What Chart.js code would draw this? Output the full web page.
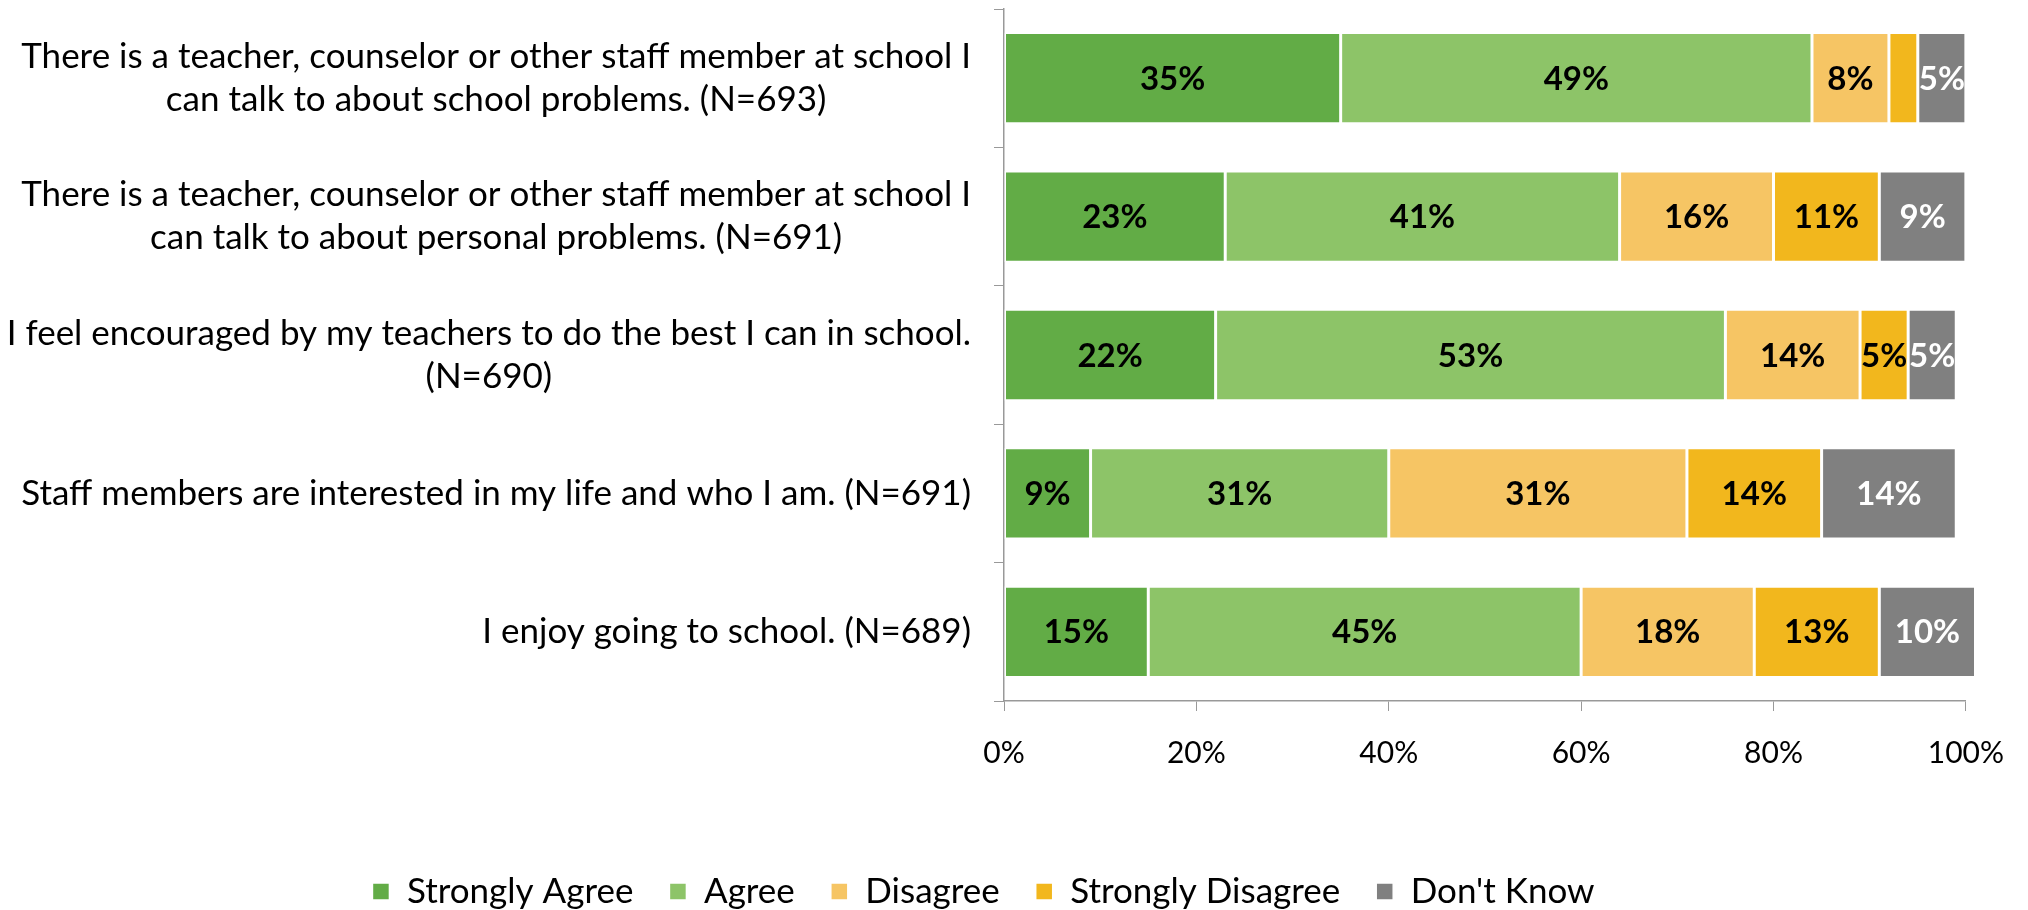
<!DOCTYPE html>
<html>
<head>
<meta charset="utf-8">
<script src="https://cdn.jsdelivr.net/npm/chart.js@4"></script>
<style>
  html, body { margin: 0; padding: 0; background: #fff; }
  #wrap { width: 2028px; height: 910px; }
</style>
</head>
<body>
<div id="wrap"><canvas id="surveyChart" width="2028" height="910"></canvas></div>
<script>
// survey statements (y axis), each split in display lines
const statements = [
  ['There is a teacher, counselor or other staff member at school I', 'can talk to about school problems. (N=693)'],
  ['There is a teacher, counselor or other staff member at school I', 'can talk to about personal problems. (N=691)'],
  ['I feel encouraged by my teachers to do the best I can in school.', '(N=690)'],
  ['Staff members are interested in my life and who I am. (N=691)'],
  ['I enjoy going to school. (N=689)']
]
const responses = ['Strongly Agree', 'Agree', 'Disagree', 'Strongly Disagree', "Don't Know"]

const stronglyAgree = [35, 23, 22, 9, 15]
const agree = [49, 41, 53, 31, 45]
const disagree = [8, 16, 14, 31, 18]
const stronglyDisagree = [3, 11, 5, 14, 13]
const dontKnow = [5, 9, 5, 14, 10]

const xTicks = [0, 20, 40, 60, 80, 100]

const colors = ['#62ac46', '#8dc468', '#f6c564', '#f2b71d', '#808080']
const labelColors = ['#000', '#000', '#000', '#000', '#fff']
const FONT = 'Lato'

// draws the category labels: block right aligned, lines centered in the block
const catLabels = {
  id: 'catLabels',
  afterDraw(chart) {
    const { ctx } = chart
    const y = chart.scales.y
    const right = chart.chartArea.left - 33
    const lh = 43
    ctx.save()
    ctx.font = '35px ' + FONT
    ctx.fillStyle = '#000'
    ctx.textBaseline = 'middle'
    ctx.textAlign = 'center'
    statements.forEach((lines, i) => {
      const w = Math.max(...lines.map(l => ctx.measureText(l).width))
      const cx = right - w / 2
      const cy = y.getPixelForValue(i)
      const y0 = cy - (lines.length - 1) * lh / 2
      lines.forEach((l, k) => ctx.fillText(l, cx, y0 + k * lh))
    })
    ctx.restore()
  }
}

// percent labels inside segments
const segLabels = {
  id: 'segLabels',
  afterDatasetsDraw(chart) {
    const { ctx } = chart
    ctx.save()
    ctx.font = 'bold 33px ' + FONT
    ctx.textAlign = 'center'
    ctx.textBaseline = 'middle'
    chart.data.datasets.forEach((ds, di) => {
      const meta = chart.getDatasetMeta(di)
      meta.data.forEach((bar, i) => {
        const v = ds.data[i]
        if (v < 4) return
        ctx.fillStyle = labelColors[di]
        ctx.fillText(v + '%', (bar.x + bar.base) / 2, bar.y + 1)
      })
    })
    ctx.restore()
  }
}

const seriesData = [stronglyAgree, agree, disagree, stronglyDisagree, dontKnow]

new Chart(document.getElementById('surveyChart'), {
  type: 'bar',
  data: {
    labels: statements.map(s => s.join(' ')),
    datasets: responses.map((r, i) => ({
      label: r,
      data: seriesData[i],
      backgroundColor: colors[i],
      borderColor: '#fff',
      borderWidth: 1.5,
      borderSkipped: false,
      barPercentage: 0.66,
      categoryPercentage: 1,
      clip: false
    }))
  },
  options: {
    indexAxis: 'y',
    responsive: false,
    devicePixelRatio: 1,
    animation: false,
    layout: { padding: { left: 0, right: 61, top: 9, bottom: -9 } },
    scales: {
      x: {
        stacked: true,
        min: 0,
        max: 100,
        afterBuildTicks: s => { s.ticks = xTicks.map(v => ({ value: v })) },
        afterFit: s => { s.height = 137 },
        ticks: { callback: v => v + '%', color: '#000', font: { family: FONT, size: 30 }, padding: 24 },
        grid: { drawOnChartArea: false, drawTicks: true, tickLength: 10, color: '#999' },
        border: { color: '#999', width: 1.5 }
      },
      y: {
        stacked: true,
        afterFit: s => { s.width = 1004 },
        ticks: { display: false },
        grid: { drawOnChartArea: false, drawTicks: true, tickLength: 10, offset: true, color: '#999' },
        border: { color: '#999', width: 1.5 }
      }
    },
    plugins: {
      legend: {
        position: 'bottom',
        labels: {
          boxWidth: 17,
          boxHeight: 17,
          padding: 36,
          color: '#000',
          font: { family: FONT, size: 35 }
        }
      },
      tooltip: { enabled: false }
    }
  },
  plugins: [catLabels, segLabels]
})
</script>
</body>
</html>
